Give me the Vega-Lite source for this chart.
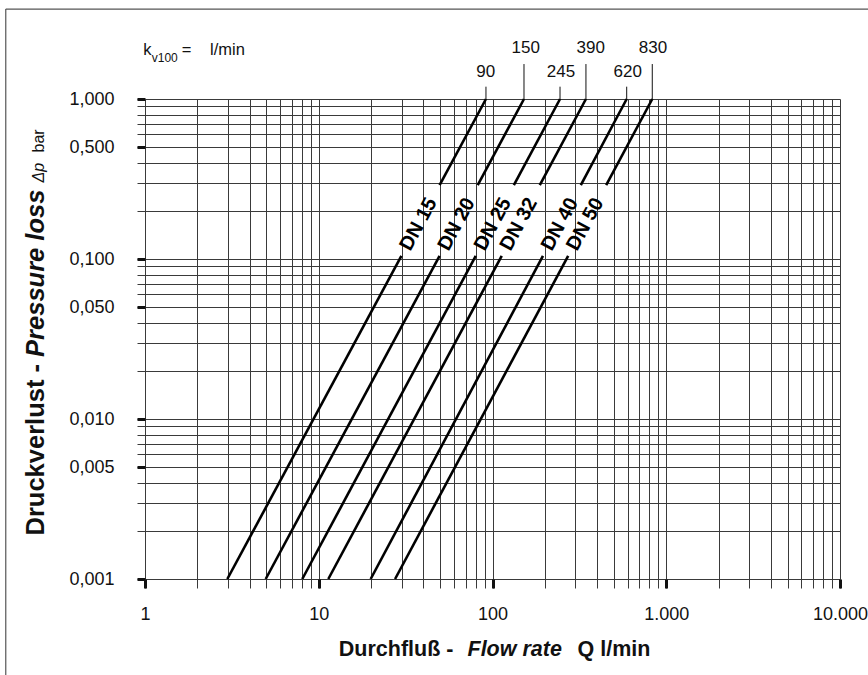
{
  "$schema": "https://vega.github.io/schema/vega-lite/v6.json",
  "width": 695,
  "height": 480,
  "autosize": {"type": "none"},
  "padding": {"left": 145, "top": 99, "right": 28, "bottom": 96},
  "background": "white",
  "config": {
    "view": {"stroke": null},
    "font": "Liberation Sans",
    "axis": {"labelFont": "Liberation Sans", "titleFont": "Liberation Sans", "labelColor": "#111", "titleColor": "#111", "tickColor": "#222", "gridColor": "#3a3a3a", "gridOpacity": 1, "gridWidth": 1}
  },
  "datasets": {
    "lines": [
      {"dn": "DN 15", "seg": "15a", "q": 2.977, "p": 0.001}, {"dn": "DN 15", "seg": "15a", "q": 29.9, "p": 0.1045},
      {"dn": "DN 15", "seg": "15b", "q": 49.6, "p": 0.29}, {"dn": "DN 15", "seg": "15b", "q": 91.7, "p": 1},
      {"dn": "DN 20", "seg": "20a", "q": 4.95, "p": 0.001}, {"dn": "DN 20", "seg": "20a", "q": 49.6, "p": 0.1045},
      {"dn": "DN 20", "seg": "20b", "q": 82.2, "p": 0.29}, {"dn": "DN 20", "seg": "20b", "q": 151.8, "p": 1},
      {"dn": "DN 25", "seg": "25a", "q": 8.04, "p": 0.001}, {"dn": "DN 25", "seg": "25a", "q": 80.1, "p": 0.1045},
      {"dn": "DN 25", "seg": "25b", "q": 132.7, "p": 0.29}, {"dn": "DN 25", "seg": "25b", "q": 244.7, "p": 1},
      {"dn": "DN 32", "seg": "32a", "q": 11.35, "p": 0.001}, {"dn": "DN 32", "seg": "32a", "q": 113.0, "p": 0.1045},
      {"dn": "DN 32", "seg": "32b", "q": 187.1, "p": 0.29}, {"dn": "DN 32", "seg": "32b", "q": 345, "p": 1},
      {"dn": "DN 40", "seg": "40a", "q": 19.9, "p": 0.001}, {"dn": "DN 40", "seg": "40a", "q": 195.2, "p": 0.1045},
      {"dn": "DN 40", "seg": "40b", "q": 322.3, "p": 0.29}, {"dn": "DN 40", "seg": "40b", "q": 592, "p": 1},
      {"dn": "DN 50", "seg": "50a", "q": 27.5, "p": 0.001}, {"dn": "DN 50", "seg": "50a", "q": 272.6, "p": 0.1045},
      {"dn": "DN 50", "seg": "50b", "q": 451.1, "p": 0.29}, {"dn": "DN 50", "seg": "50b", "q": 831, "p": 1}
    ],
    "labels": [
      {"dn": "DN 15", "q": 37.5, "p": 0.165},
      {"dn": "DN 20", "q": 62.2, "p": 0.165},
      {"dn": "DN 25", "q": 100.4, "p": 0.165},
      {"dn": "DN 32", "q": 141.6, "p": 0.165},
      {"dn": "DN 40", "q": 244.3, "p": 0.165},
      {"dn": "DN 50", "q": 341.6, "p": 0.165}
    ],
    "kv": [
      {"kv": "90", "q": 91.7, "base": 1, "top": 1.194, "lq": 91.4, "lp": 1.366},
      {"kv": "150", "q": 151.8, "base": 1, "top": 1.654, "lq": 155.3, "lp": 1.93},
      {"kv": "245", "q": 244.7, "base": 1, "top": 1.194, "lq": 247.9, "lp": 1.366},
      {"kv": "390", "q": 345, "base": 1, "top": 1.654, "lq": 367.4, "lp": 1.93},
      {"kv": "620", "q": 592, "base": 1, "top": 1.194, "lq": 600, "lp": 1.366},
      {"kv": "830", "q": 831, "base": 1, "top": 1.654, "lq": 839, "lp": 1.93}
    ],
    "header": [
      {"t": "k", "q": 0.978, "p": 1.884},
      {"t": "=", "q": 1.626, "p": 1.884},
      {"t": "l/min", "q": 2.366, "p": 1.884}
    ],
    "sub": [
      {"t": "v100", "q": 1.093, "p": 1.711}
    ],
    "frame": [
      {"q1": 0.158, "q2": 14500, "p1": 3.65, "p2": 3.65},
      {"q1": 0.158, "q2": 0.158, "p1": 3.65, "p2": 0.00025}
    ]
  },
  "resolve": {"axis": {"x": "independent", "y": "independent"}},
  "layer": [
    {
      "data": {"name": "lines"},
      "mark": {"type": "line", "color": "#000", "strokeWidth": 2.6, "strokeCap": "butt"},
      "encoding": {
        "x": {"field": "q", "type": "quantitative",
          "scale": {"type": "log", "domain": [1, 10000], "nice": false},
          "axis": {"orient": "bottom", "values": [1,2,3,4,5,6,7,8,9,10,20,30,40,50,60,70,80,90,100,200,300,400,500,600,700,800,900,1000,2000,3000,4000,5000,6000,7000,8000,9000,10000],
            "grid": true, "ticks": true, "tickSize": 9, "tickWidth": 1, "tickColor": "#3a3a3a", "labels": false, "domain": false,
            "title": "Durchfluß - ", "titleX": 193.3, "titleY": 76.7, "titleAlign": "left", "titleBaseline": "alphabetic", "titleAngle": 0,
            "titleFontSize": 21.5, "titleFontWeight": "bold", "titleFontStyle": "normal"}},
        "y": {"field": "p", "type": "quantitative",
          "scale": {"type": "log", "domain": [0.001, 1], "nice": false},
          "axis": {"orient": "left", "values": [0.001,0.002,0.003,0.004,0.005,0.006,0.007,0.008,0.009,0.01,0.02,0.03,0.04,0.05,0.06,0.07,0.08,0.09,0.1,0.2,0.3,0.4,0.5,0.6,0.7,0.8,0.9,1],
            "grid": true, "ticks": true, "tickSize": 8, "tickWidth": 1, "tickColor": "#3a3a3a", "labels": false, "domain": false,
            "title": "Druckverlust - ", "titleX": -101.7, "titleY": 436, "titleAngle": 270, "titleAlign": "left", "titleBaseline": "alphabetic",
            "titleFontSize": 25.5, "titleFontWeight": "bold", "titleFontStyle": "normal"}},
        "detail": {"field": "seg", "type": "nominal"}
      }
    },
    {
      "data": {"name": "labels"},
      "mark": {"type": "text", "angle": 298.3, "align": "center", "baseline": "middle", "font": "Liberation Sans", "fontSize": 20, "fontWeight": "bold", "color": "#000"},
      "encoding": {
        "x": {"field": "q", "type": "quantitative",
          "scale": {"type": "log", "domain": [1, 10000], "nice": false},
          "axis": {"orient": "bottom", "values": [1, 10, 100, 1000, 10000], "grid": false, "ticks": true, "tickSize": 9, "tickWidth": 3, "tickColor": "#111", "domain": false,
            "labelExpr": "replace(format(datum.value, ','), ',', '.')", "labelFontSize": 18, "labelPadding": 17, "labelFlush": false, "labelOverlap": false,
            "title": "Flow rate", "titleX": 322, "titleY": 76.7, "titleAlign": "left", "titleBaseline": "alphabetic", "titleAngle": 0,
            "titleFontSize": 21.5, "titleFontWeight": "bold", "titleFontStyle": "italic"}},
        "y": {"field": "p", "type": "quantitative",
          "scale": {"type": "log", "domain": [0.001, 1], "nice": false},
          "axis": {"orient": "left", "values": [0.001, 0.005, 0.01, 0.05, 0.1, 0.5, 1], "grid": false, "ticks": true, "tickSize": 8, "tickWidth": 3, "tickColor": "#111", "domain": false,
            "labelExpr": "replace(format(datum.value, '.3f'), '.', ',')", "labelFontSize": 18, "labelPadding": 23, "labelFlush": false, "labelOverlap": false,
            "title": "Pressure loss", "titleX": -101.7, "titleY": 257.4, "titleAngle": 270, "titleAlign": "left", "titleBaseline": "alphabetic",
            "titleFontSize": 25.5, "titleFontWeight": "bold", "titleFontStyle": "italic"}},
        "text": {"field": "dn", "type": "nominal"}
      }
    },
    {
      "data": {"name": "kv"},
      "mark": {"type": "rule", "color": "#111", "strokeWidth": 1},
      "encoding": {
        "x": {"field": "q", "type": "quantitative",
          "scale": {"type": "log", "domain": [1, 10000], "nice": false},
          "axis": {"orient": "bottom", "grid": false, "ticks": false, "labels": false, "domain": false,
            "title": "Q l/min", "titleX": 432, "titleY": 76.7, "titleAlign": "left", "titleBaseline": "alphabetic", "titleAngle": 0,
            "titleFontSize": 21.5, "titleFontWeight": "bold", "titleFontStyle": "normal"}},
        "y": {"field": "base", "type": "quantitative",
          "scale": {"type": "log", "domain": [0.001, 1], "nice": false},
          "axis": {"orient": "left", "grid": false, "ticks": false, "labels": false, "domain": false,
            "title": "Δp", "titleX": -101.7, "titleY": 83, "titleAngle": 270, "titleAlign": "left", "titleBaseline": "alphabetic",
            "titleFontSize": 16, "titleFontWeight": "normal", "titleFontStyle": "italic"}},
        "y2": {"field": "top"}
      }
    },
    {
      "data": {"name": "kv"},
      "mark": {"type": "text", "align": "center", "baseline": "alphabetic", "font": "Liberation Sans", "fontSize": 17, "color": "#111"},
      "encoding": {
        "x": {"field": "lq", "type": "quantitative",
          "scale": {"type": "log", "domain": [1, 10000], "nice": false}, "axis": null},
        "y": {"field": "lp", "type": "quantitative",
          "scale": {"type": "log", "domain": [0.001, 1], "nice": false},
          "axis": {"orient": "left", "grid": false, "ticks": false, "labels": false, "domain": false,
            "title": "bar", "titleX": -101.7, "titleY": 53, "titleAngle": 270, "titleAlign": "left", "titleBaseline": "alphabetic",
            "titleFontSize": 16, "titleFontWeight": "normal", "titleFontStyle": "normal"}},
        "text": {"field": "kv", "type": "nominal"}
      }
    },
    {
      "data": {"name": "header"},
      "mark": {"type": "text", "align": "left", "baseline": "alphabetic", "font": "Liberation Sans", "fontSize": 16.5, "color": "#111"},
      "encoding": {
        "x": {"field": "q", "type": "quantitative", "scale": {"type": "log", "domain": [1, 10000], "nice": false}, "axis": null},
        "y": {"field": "p", "type": "quantitative", "scale": {"type": "log", "domain": [0.001, 1], "nice": false}, "axis": null},
        "text": {"field": "t", "type": "nominal"}
      }
    },
    {
      "data": {"name": "sub"},
      "mark": {"type": "text", "align": "left", "baseline": "alphabetic", "font": "Liberation Sans", "fontSize": 12, "color": "#111"},
      "encoding": {
        "x": {"field": "q", "type": "quantitative", "scale": {"type": "log", "domain": [1, 10000], "nice": false}, "axis": null},
        "y": {"field": "p", "type": "quantitative", "scale": {"type": "log", "domain": [0.001, 1], "nice": false}, "axis": null},
        "text": {"field": "t", "type": "nominal"}
      }
    },
    {
      "data": {"name": "frame"},
      "mark": {"type": "rule", "color": "#555", "strokeWidth": 1.2},
      "encoding": {
        "x": {"field": "q1", "type": "quantitative", "scale": {"type": "log", "domain": [1, 10000], "nice": false}, "axis": null},
        "x2": {"field": "q2"},
        "y": {"field": "p1", "type": "quantitative", "scale": {"type": "log", "domain": [0.001, 1], "nice": false}, "axis": null},
        "y2": {"field": "p2"}
      }
    }
  ]
}
